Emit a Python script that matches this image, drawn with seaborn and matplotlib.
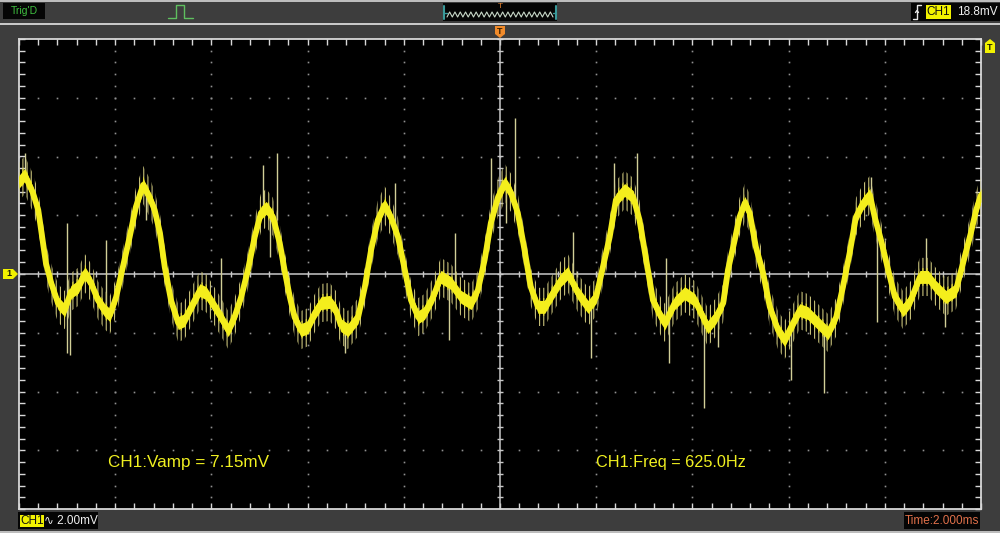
import numpy as np
import matplotlib
matplotlib.use("Agg")
import matplotlib.pyplot as plt
import seaborn as sns
import pandas as pd
from matplotlib.patches import Rectangle, Polygon
from matplotlib.lines import Line2D

# ---------------- data (time in ms, CH1 in mV) ----------------
time_ms = [-10.00, -9.88, -9.71, -9.60, -9.50, -9.44, -9.33, -9.19, -9.05, -8.92,
           -8.77, -8.63, -8.50, -8.36, -8.22, -8.11, -7.98, -7.84, -7.70, -7.57,
           -7.42, -7.28, -7.18, -7.07, -6.97, -6.84, -6.69, -6.56, -6.42, -6.24,
           -6.11, -5.93, -5.80, -5.65, -5.52, -5.38, -5.24, -5.10, -4.97, -4.86,
           -4.72, -4.58, -4.48, -4.37, -4.27, -4.14, -3.99, -3.85, -3.72, -3.54,
           -3.41, -3.31, -3.16, -2.95, -2.81, -2.68, -2.54, -2.40, -2.27, -2.12,
           -1.98, -1.85, -1.70, -1.57, -1.39, -1.23, -1.02, -0.81, -0.60, -0.46,
           -0.32, -0.19, -0.04, 0.10, 0.23, 0.37, 0.51, 0.64, 0.79, 0.93,
           1.10, 1.27, 1.41, 1.62, 1.83, 2.00, 2.14, 2.28, 2.41, 2.59,
           2.77, 2.90, 3.04, 3.18, 3.35, 3.43, 3.63, 3.84, 4.05, 4.18,
           4.32, 4.49, 4.64, 4.74, 4.88, 4.98, 5.09, 5.19, 5.32, 5.47,
           5.61, 5.78, 5.92, 6.05, 6.23, 6.40, 6.61, 6.82, 6.99, 7.13,
           7.27, 7.40, 7.55, 7.69, 7.79, 7.92, 8.07, 8.21, 8.38, 8.54,
           8.73, 8.90, 9.06, 9.27, 9.48, 9.66, 9.79, 9.90, 10.00]
volt_mV = [3.14, 3.37, 2.76, 2.18, 1.06, 0.37, -0.31, -0.99, -1.23, -0.61,
           -0.44, 0.03, -0.31, -0.89, -1.23, -1.40, -0.78, 0.24, 1.26, 2.28,
           3.03, 2.59, 2.18, 1.40, 0.24, -0.89, -1.67, -1.57, -1.12, -0.55,
           -0.65, -1.12, -1.47, -1.91, -1.47, -0.78, 0.14, 1.26, 2.08, 2.25,
           1.94, 1.06, 0.14, -0.78, -1.47, -1.91, -1.81, -1.33, -0.99, -0.95,
           -1.23, -1.74, -1.91, -1.47, -0.44, 0.82, 1.84, 2.35, 1.94, 1.26,
           0.14, -0.89, -1.47, -1.33, -0.78, -0.10, -0.31, -0.78, -0.99, -0.55,
           0.48, 1.74, 2.62, 3.10, 2.76, 2.08, 0.82, -0.44, -1.12, -1.12,
           -0.65, -0.20, 0.03, -0.65, -1.12, -0.78, 0.24, 1.26, 2.52, 2.86,
           2.62, 1.84, 0.48, -0.89, -1.47, -1.67, -0.99, -0.65, -0.89, -1.33,
           -1.81, -1.47, -0.99, 0.14, 1.16, 1.94, 2.42, 2.08, 0.92, 0.03,
           -1.12, -1.91, -2.25, -1.81, -1.23, -1.33, -1.67, -2.01, -1.47, -0.44,
           0.72, 1.94, 2.42, 2.69, 1.94, 1.16, 0.14, -0.78, -1.23, -0.89,
           -0.10, -0.10, -0.44, -0.78, -0.55, 0.58, 1.40, 2.18, 2.69]

spike_time_ms = [-9.88, -9.00, -8.94, -8.20, -7.36, -5.80, -4.93, -4.79, -4.63, -3.23,
                 -2.19, -1.05, -0.94, -0.19, 0.12, 0.31, 1.52, 1.89, 2.38, 2.84,
                 3.45, 3.52, 4.25, 4.53, 6.05, 6.74, 7.71, 7.83, 8.86, 9.25]
spike_low_mV = [3.30, -2.69, -2.76, -1.20, 1.84, -1.40, 2.10, 0.58, 1.84, -2.69,
                1.60, -2.25, -0.30, 1.70, 1.74, 2.30, -0.40, -2.86, 2.40, 2.30,
                -1.60, -3.03, -4.57, -2.49, -3.61, -4.05, 2.50, -1.64, -0.10, -1.81]
spike_high_mV = [4.12, 1.74, -0.60, 1.16, 2.90, 0.55, 3.71, 2.00, 4.12, -1.90,
                 3.10, -0.30, 1.40, 3.95, 3.10, 5.32, 1.43, -1.00, 3.78, 4.12,
                 0.55, -1.50, -1.50, -1.30, -1.80, -1.80, 3.30, 1.50, 1.23, -0.70]

vamp_label = "CH1:Vamp = 7.15mV"
freq_label = "CH1:Freq = 625.0Hz"
volts_div = "2.00mV"
time_div = "Time:2.000ms"
trig_level = "18.8mV"

# ---------------- style ----------------
sns.set_style("dark")
plt.rcParams['font.family'] = ['Liberation Sans', 'DejaVu Sans']
plt.rcParams['hatch.linewidth'] = 0.8

W, H = 1000, 533
BG = '#3d3d3d'
YEL = '#f4ee1c'
fig = plt.figure(figsize=(10, 5.33), dpi=100, facecolor=BG)


def fx(x):
    return x / W


def fy(y):
    return 1 - y / H


def frect(x0, y0, x1, y1, color, z=1, **kw):
    fig.add_artist(Rectangle((fx(x0), fy(y1)), fx(x1) - fx(x0), fy(y0) - fy(y1),
                             transform=fig.transFigure, facecolor=color,
                             edgecolor='none', zorder=z, **kw))


def fline(xs, ys, color, lw=1.0, z=3):
    fig.add_artist(Line2D([fx(x) for x in xs], [fy(y) for y in ys],
                          transform=fig.transFigure, color=color, lw=lw, zorder=z))


# ---------------- scope screen ----------------
ax = fig.add_axes([fx(19), fy(509), (981 - 19) / W, (509 - 39) / H])
ax.set_facecolor('black')
ax.set_xlim(-10, 10)
ax.set_ylim(-8, 8)
for sp in ax.spines.values():
    sp.set_color('#d8d8d8')
    sp.set_linewidth(1.3)
ax.grid(False)

minor_x = np.arange(-10, 10.001, 0.4)
minor_y = np.arange(-8, 8.001, 0.4)
ax.set_xticks(minor_x)
ax.set_yticks(minor_y)
ax.set_xticklabels([])
ax.set_yticklabels([])
ax.tick_params(axis='both', which='both', direction='in', length=4, width=1,
               color='#d8d8d8', top=True, right=True, bottom=True, left=True,
               labelbottom=False, labelleft=False)

# dotted graticule
for gx in np.arange(-8, 8.001, 2):
    if abs(gx) < 1e-9:
        continue
    ax.plot(np.full_like(minor_y, gx), minor_y, ls='none', marker='s', ms=1.2,
            color='#909090', mew=0, zorder=1)
for gy in np.arange(-6, 6.001, 2):
    if abs(gy) < 1e-9:
        continue
    ax.plot(minor_x, np.full_like(minor_x, gy), ls='none', marker='s', ms=1.2,
            color='#909090', mew=0, zorder=1)

# centre cross with ticks
ax.axhline(0, color='#c8c8c8', lw=1.1, zorder=2)
ax.axvline(0, color='#c8c8c8', lw=1.1, zorder=2)
ax.vlines(minor_x, -0.1, 0.1, color='#c8c8c8', lw=1, zorder=2)
ax.hlines(minor_y, -0.065, 0.065, color='#c8c8c8', lw=1, zorder=2)

# waveform
df = pd.DataFrame({'t': time_ms, 'v': volt_mV})
ax.vlines(spike_time_ms, spike_low_mV, spike_high_mV, color='#d2cf98', lw=1.0, zorder=3)
# noisy fringe (vertical hatching around the trace)
ax.fill_between(df['t'], df['v'] - 0.65, df['v'] + 0.65, facecolor='none',
                edgecolor='#c9c27a', hatch='||||', lw=0, zorder=3)
ax.fill_between(df['t'], df['v'] - 0.3, df['v'] + 0.3, facecolor='none',
                edgecolor='#e8e030', hatch='||||', lw=0, zorder=3)
ax.fill_between(df['t'], df['v'] - 0.22, df['v'] + 0.22, color=YEL, lw=0, zorder=4)
sns.lineplot(data=df, x='t', y='v', ax=ax, color=YEL, linewidth=4.2,
             estimator=None, sort=False, zorder=5)
ax.set_xlabel('')
ax.set_ylabel('')

ax.text(0.0925, 0.10, vamp_label, transform=ax.transAxes, color='#f0f020',
        fontsize=12.3, va='center', ha='left')
ax.text(0.6, 0.10, freq_label, transform=ax.transAxes, color='#f0f020',
        fontsize=11.7, va='center', ha='left')

# ---------------- frame / toolbar ----------------
frect(0, 0, 1000, 1.5, '#bdbdbd', z=1)
frect(0, 23, 1000, 25, '#c8c8c8', z=1)
frect(0, 531, 1000, 533, '#bdbdbd', z=1)

# Trig'D
frect(3, 3, 45, 19, '#050505', z=2)
fig.text(fx(24), fy(11.5), "Trig'D", color='#3fbf3f', fontsize=7.5, ha='center',
         va='center', zorder=3)
# pulse icon
fline([168, 176, 176, 184, 184, 193], [18, 18, 5, 5, 18, 18], '#5fbf5f', lw=1)

# waveform overview box
frect(443, 3, 557, 21, '#050505', z=2)
fline([444, 444], [6, 19], '#3a9a9a', lw=1.5)
fline([556, 556], [6, 19], '#3a9a9a', lw=1.5)
fline([444, 447], [12.5, 12.5], '#3a9a9a', lw=1)
fline([553, 556], [12.5, 12.5], '#3a9a9a', lw=1)
zx = np.linspace(447, 553, 41)
zy = np.where(np.arange(41) % 2 == 0, 17, 12)
fline(zx, zy, '#c8d8c8', lw=0.8)
fig.text(fx(500), fy(7), "T", color='#e08030', fontsize=6, ha='center', va='center',
         zorder=3)

# orange trigger position marker
fig.add_artist(Polygon([(fx(495), fy(26)), (fx(505), fy(26)), (fx(505), fy(34)),
                        (fx(500), fy(38)), (fx(495), fy(34))], closed=True,
                       transform=fig.transFigure, facecolor='#f08a2a',
                       edgecolor='none', zorder=3))
fig.text(fx(500), fy(31), "T", color='#3a2000', fontsize=6.5, ha='center',
         va='center', fontweight='bold', zorder=4)

# trigger info box top right
frect(911, 3, 1000, 21, '#050505', z=2)
fline([913, 917, 917, 921], [19, 19, 5, 5], '#e8e8e8', lw=1)
fline([915.5, 917, 918.5], [12.5, 10.5, 12.5], '#e8e8e8', lw=1)
frect(926, 5, 951, 19, '#f2f200', z=3)
fig.text(fx(938.5), fy(12), "CH1", color='#101010', fontsize=8.5, ha='center',
         va='center', zorder=4)
fig.text(fx(957), fy(12), trig_level, color='#f0f0f0', fontsize=8.5, ha='left',
         va='center', zorder=4)

# yellow trigger level marker (right)
fig.add_artist(Polygon([(fx(985), fy(53)), (fx(995), fy(53)), (fx(995), fy(43)),
                        (fx(990), fy(39)), (fx(985), fy(43))], closed=True,
                       transform=fig.transFigure, facecolor='#f2f200',
                       edgecolor='none', zorder=3))
fig.text(fx(990), fy(47.5), "T", color='#202000', fontsize=6.5, ha='center',
         va='center', fontweight='bold', zorder=4)

# channel 1 ground marker (left)
fig.add_artist(Polygon([(fx(3), fy(269)), (fx(13), fy(269)), (fx(18), fy(274)),
                        (fx(13), fy(279)), (fx(3), fy(279))], closed=True,
                       transform=fig.transFigure, facecolor='#f2f200',
                       edgecolor='none', zorder=3))
fig.text(fx(9), fy(274), "1", color='#202000', fontsize=6.5, ha='center',
         va='center', fontweight='bold', zorder=4)

# bottom left: volts/div
frect(18, 512, 98, 529, '#050505', z=2)
frect(20, 515, 43.5, 527, '#f2f200', z=3)
fig.text(fx(31.7), fy(521), "CH1", color='#101010', fontsize=8.5, ha='center',
         va='center', zorder=4)
fig.text(fx(44.5), fy(521), "\u223f " + volts_div, color='#f0f0f0', fontsize=8.5,
         ha='left', va='center', zorder=4)

# bottom right: time/div
frect(904, 512, 980, 529, '#050505', z=2)
fig.text(fx(942), fy(521), time_div, color='#e0704a', fontsize=8.5, ha='center',
         va='center', zorder=4)

fig.savefig('out.png', dpi=100, facecolor=BG)
